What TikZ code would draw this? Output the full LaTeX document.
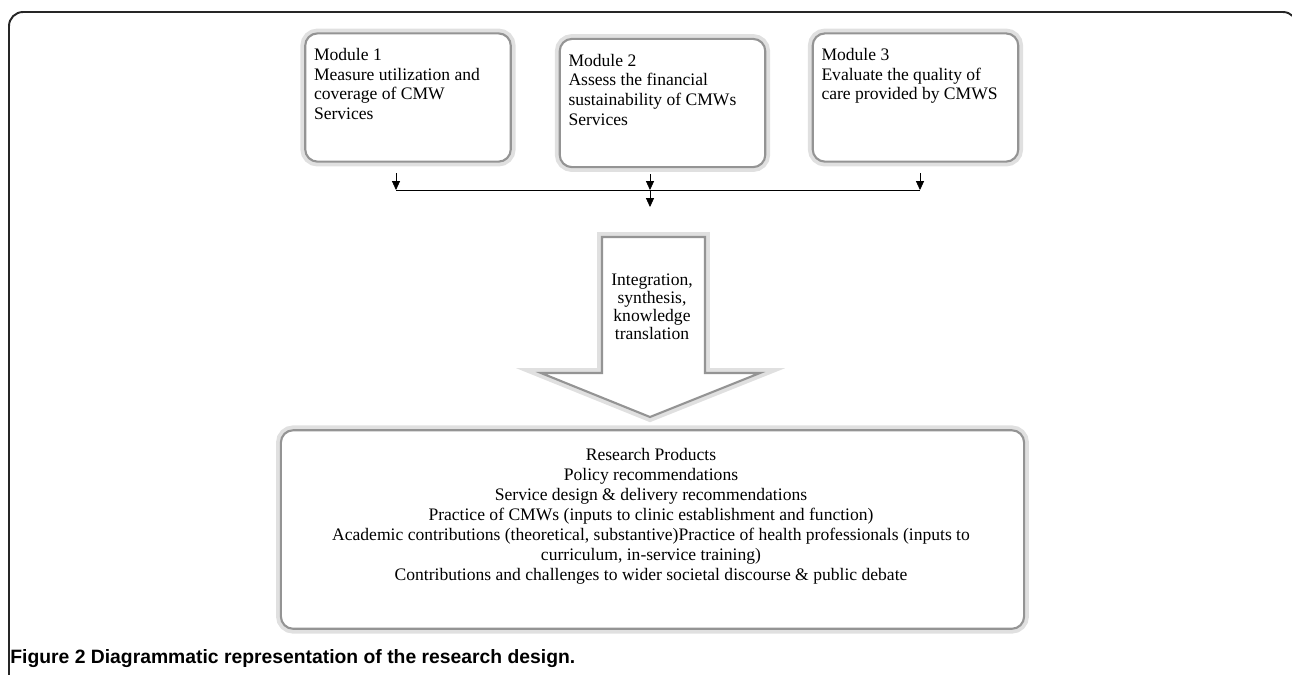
\documentclass[tikz,border=0pt]{standalone}
\usepackage{fontspec}
\setmainfont{Liberation Serif}
\newfontfamily\capfont{Liberation Sans}
\usetikzlibrary{arrows.meta}
\tikzset {>={Triangle[length=5pt,width=4.5pt]}}
\newcommand*{\modtxt}[1]{\parbox[t][56pt][t]{107pt}{\raggedright #1}}

\begin{document}
\begin{tikzpicture}[x=0.02cm,y=-0.02cm,
  bevel/.style={fill=white,draw=black!42,line width=1.2pt,rounded corners=7pt,
    preaction={draw=black!12,line width=5.5pt}},
  modbox/.style={bevel,inner xsep=5pt,inner ysep=8.5pt},
  txt/.style={font=\fontsize{10}{11.2}\selectfont}]
\useasboundingbox (0,0) rectangle (1292,674);
% frame
\draw[line width=1.1pt,black!85,rounded corners=8pt] (9,690) -- (9,12) -- (1297,12) -- (1297,60);
% modules
\node[modbox,txt] (m1) at (408,97.5) {\modtxt{Module 1\\Measure utilization and\\coverage of CMW\\Services}};
\node[modbox,txt] (m2) at (662.5,103) {\modtxt{Module 2\\Assess the financial\\sustainability of CMWs\\Services}};
\node[modbox,txt] (m3) at (915.5,97.5) {\modtxt{Module 3\\Evaluate the quality of\\care provided by CMWS}};
\coordinate (j1) at (396,190);
\coordinate (j2) at (650,190);
\coordinate (j3) at (920,190);
\coordinate (jo) at (650,207);
\draw[->,shorten <=6pt] (m1.south -| j1) -- (j1);
\draw[->,shorten <=3.5pt] (m2.south -| j2) -- (j2);
\draw[->,shorten <=6pt] (m3.south -| j3) -- (j3);
\draw (j1) -- (j3);
\draw[->] (j2) -- (jo);
% big arrow
\draw[bevel,rounded corners=0pt] (602,237) -- (705,237) -- (705,373) -- (760,373)
  -- (650,417) -- (541,373) -- (602,373) -- cycle;
\node[align=center,font=\fontsize{10}{10.2}\selectfont] (intg) at (652,307)
  {Integration,\\synthesis,\\knowledge\\translation};
% products
\node[bevel,minimum width=423pt,minimum height=113pt] (prod) at (652.5,529.5) {};
\node[align=center,anchor=north,inner sep=0pt,font=\fontsize{10}{11.4}\selectfont] (prodtxt) at (651,448)
  {Research Products\\Policy recommendations\\Service design \& delivery recommendations\\
   Practice of CMWs (inputs to clinic establishment and function)\\
   Academic contributions (theoretical, substantive)Practice of health professionals (inputs to\\
   curriculum, in-service training)\\
   Contributions and challenges to wider societal discourse \& public debate};
\node[anchor=base west,inner sep=0pt,font={\capfont\bfseries\fontsize{11}{13}\selectfont}] (cap)
  at (10,663) {Figure 2 Diagrammatic representation of the research design.};
\end{tikzpicture}
\end{document}
